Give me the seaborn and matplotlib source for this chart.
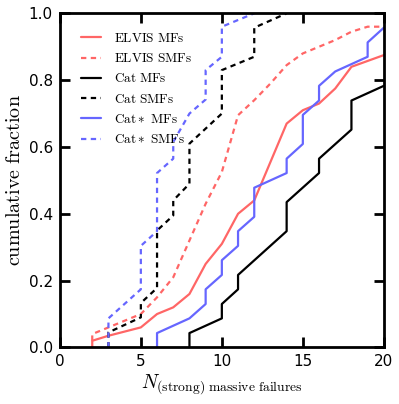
import matplotlib
matplotlib.use("Agg")
import matplotlib.pyplot as plt
import seaborn as sns

# vertices of each cumulative curve
elvis_mf_x = [2, 2, 3, 5, 6, 7, 8, 9, 10, 11, 12, 14, 15, 16, 17, 18, 20]
elvis_mf_y = [0.0, 0.02, 0.035, 0.06, 0.10, 0.12, 0.16, 0.25, 0.31, 0.40, 0.44,
              0.67, 0.71, 0.73, 0.775, 0.84, 0.875]

elvis_smf_x = [2, 2, 3, 5, 6, 7, 8, 9, 10, 11, 12, 13, 14, 15, 16, 17, 18, 19, 20]
elvis_smf_y = [0.02, 0.04, 0.06, 0.10, 0.15, 0.21, 0.32, 0.43, 0.525, 0.695, 0.74,
               0.79, 0.845, 0.88, 0.90, 0.92, 0.945, 0.96, 0.96]

cat_mf_x = [8, 8, 10, 10, 11, 11, 14, 14, 16, 16, 18, 18, 20]
cat_mf_y = [0.0, 0.043, 0.087, 0.130, 0.174, 0.217, 0.348, 0.435, 0.522, 0.565,
            0.652, 0.739, 0.783]

cat_smf_x = [3, 3, 5, 5, 6, 6, 7, 7, 8, 8, 10, 10, 12, 12, 14]
cat_smf_y = [0.0, 0.045, 0.09, 0.133, 0.178, 0.350, 0.395, 0.440, 0.490, 0.610,
             0.700, 0.830, 0.870, 0.957, 1.0]

catstar_mf_x = [6, 6, 8, 9, 9, 10, 10, 11, 11, 12, 12, 14, 14, 15, 15, 16, 16, 17,
                19, 19, 20]
catstar_mf_y = [0.0, 0.043, 0.087, 0.130, 0.174, 0.217, 0.261, 0.304, 0.348, 0.391,
                0.478, 0.522, 0.565, 0.609, 0.696, 0.739, 0.783, 0.826, 0.870,
                0.913, 0.957]

catstar_smf_x = [3, 3, 5, 5, 6, 6, 7, 7, 8, 9, 9, 10, 10, 12]
catstar_smf_y = [0.0, 0.087, 0.174, 0.304, 0.348, 0.522, 0.565, 0.615, 0.700,
                 0.742, 0.830, 0.870, 0.960, 1.0]

labels = [r"$\mathrm{ELVIS\ MFs}$", r"$\mathrm{ELVIS\ SMFs}$",
          r"$\mathrm{Cat\ MFs}$", r"$\mathrm{Cat\ SMFs}$",
          r"$\mathrm{Cat}\ast\mathrm{\ MFs}$", r"$\mathrm{Cat}\ast\mathrm{\ SMFs}$"]

sns.set_style("ticks")
plt.rcParams["mathtext.fontset"] = "cm"
plt.rcParams["font.family"] = ["DejaVu Sans"]
for key in ["axes.edgecolor", "xtick.color", "ytick.color", "text.color",
            "axes.labelcolor", "xtick.labelcolor", "ytick.labelcolor"]:
    plt.rcParams[key] = "black"

fig = plt.figure(figsize=(3.99, 4.04), dpi=100)
ax = fig.add_axes([0.150, 0.140, 0.812, 0.827])

red = (1.0, 0.4, 0.4)
blue = (0.4, 0.4, 1.0)
dash = (0, (2.4, 2.0))

curves = [
    (elvis_mf_x, elvis_mf_y, red, "-"),
    (elvis_smf_x, elvis_smf_y, red, dash),
    (cat_mf_x, cat_mf_y, "k", "-"),
    (cat_smf_x, cat_smf_y, "k", dash),
    (catstar_mf_x, catstar_mf_y, blue, "-"),
    (catstar_smf_x, catstar_smf_y, blue, dash),
]
for (xs, ys, c, ls), lab in zip(curves, labels):
    sns.lineplot(x=xs, y=ys, sort=False, estimator=None, color=c, linestyle=ls,
                 lw=1.6, label=lab, ax=ax)

ax.set_xlim(0, 20)
ax.set_ylim(0, 1)
ax.set_xticks([0, 5, 10, 15, 20])
ax.set_yticks([0.0, 0.2, 0.4, 0.6, 0.8, 1.0])
ax.set_yticklabels(["0.0", "0.2", "0.4", "0.6", "0.8", "1.0"])
for s in ax.spines.values():
    s.set_linewidth(2)
    s.set_visible(True)
    s.set_color("black")
ax.tick_params(direction="in", length=7, width=2, top=True, right=True,
               labelsize=11, pad=5, colors="black")

ax.set_xlabel(r"$N_{\rm (strong)\ massive\ failures}$", fontsize=14, labelpad=2)
ax.set_ylabel(r"$\mathrm{cumulative\ fraction}$", fontsize=14.5, labelpad=3)

ax.legend(loc="upper left", bbox_to_anchor=(0.03, 0.98), frameon=False,
          fontsize=9.5, handlelength=1.5, handletextpad=1.0, labelspacing=0.55)

fig.savefig("out.png", dpi=100)
